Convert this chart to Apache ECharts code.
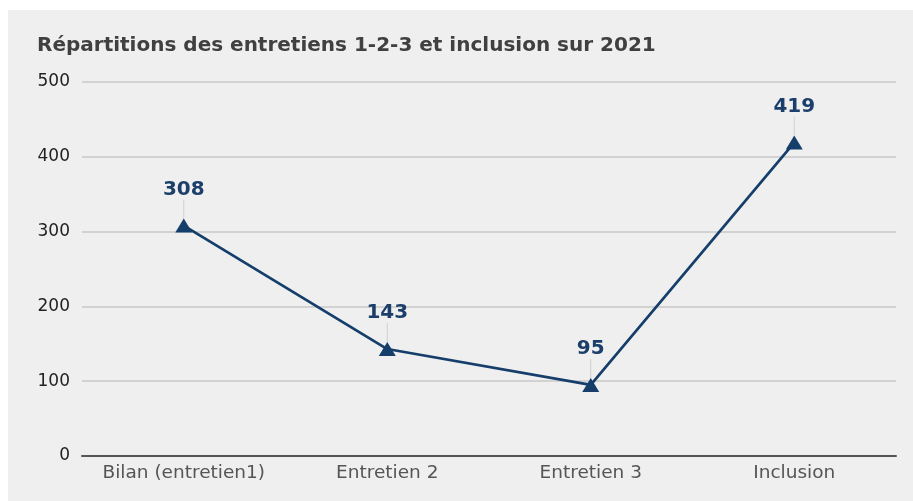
<!DOCTYPE html>
<html>
<head>
<meta charset="utf-8">
<script src="https://cdn.jsdelivr.net/npm/echarts@6/dist/echarts.min.js"></script>
<style>
html,body{margin:0;padding:0;background:#fff;}
#c{position:absolute;left:8px;top:10px;width:905px;height:491px;background:#efefef;}
</style>
</head>
<body>
<div id="c"></div>
<script>
const categories = ["Bilan (entretien1)", "Entretien 2", "Entretien 3", "Inclusion"];
const values = [308, 143, 95, 419];
const yTicks = [0, 100, 200, 300, 400, 500];

const FONT = 'DejaVu Sans, Verdana, sans-serif';
const chart = echarts.init(document.getElementById('c'));
chart.setOption({
  backgroundColor: '#efefef',
  animation: false,
  title: {
    text: 'Répartitions des entretiens 1-2-3 et inclusion sur 2021',
    left: 24, top: 21,
    textStyle: {fontFamily: FONT, fontSize: 20, fontWeight: 'bold', color: '#404040'}
  },
  grid: {left: 74, right: 17, top: 72, bottom: 45},
  xAxis: {
    type: 'category',
    data: categories,
    boundaryGap: true,
    axisLine: {lineStyle: {color: '#555', width: 2}},
    axisTick: {show: false},
    axisLabel: {fontFamily: FONT, fontSize: 18.5, color: '#555', margin: 8, interval: 0}
  },
  yAxis: {
    type: 'value',
    min: yTicks[0], max: yTicks[yTicks.length - 1], interval: 100,
    axisLine: {show: false},
    axisTick: {show: false},
    axisLabel: {fontFamily: FONT, fontSize: 17, color: '#222', margin: 12},
    splitLine: {lineStyle: {color: '#c8c8c8', width: 1.5}}
  },
  series: [{
    type: 'line',
    data: values,
    symbol: 'triangle',
    symbolSize: [17, 14],
    lineStyle: {color: '#153e6b', width: 2.7},
    itemStyle: {color: '#153e6b'},
    label: {
      show: true, position: 'top', distance: 8,
      fontFamily: FONT, fontSize: 20, fontWeight: 'bold', color: '#1b3f6a'
    },
    labelLayout: {dy: -11},
    labelLine: {show: true, lineStyle: {color: '#d0d0d0', width: 1}}
  }]
});
</script>
</body>
</html>
